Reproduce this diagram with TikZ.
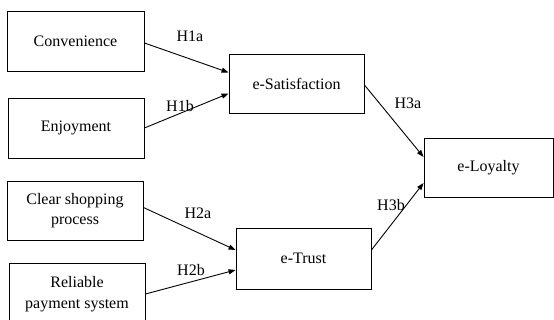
\documentclass[tikz,border=0pt]{standalone}
\usepackage{fontspec}
\setmainfont{Liberation Serif}
\usetikzlibrary{arrows.meta}
\begin{document}
\begin{tikzpicture}[x=1pt,y=-1pt,
  box/.style={draw, line width=0.9pt, inner sep=0pt, align=center, font=\fontsize{16}{20.5}\selectfont},
  conn/.style={-{Triangle[length=7pt,width=5pt]}, line width=0.9pt},
  lbl/.style={inner sep=0pt, font=\fontsize{16}{18}\selectfont}]
\useasboundingbox (0,0) rectangle (554,320);
\node[box, minimum width=137pt, minimum height=60pt] (conv) at (75.5,41) {Convenience};
\node[box, minimum width=136pt, minimum height=60pt] (enj) at (76,128) {Enjoyment};
\node[box, minimum width=135pt, minimum height=59pt] (esat) at (296.5,83.5) {e-Satisfaction};
\node[box, minimum width=136pt, minimum height=59pt] (clear) at (75,210.5) {Clear shopping\\process};
\node[box, minimum width=136pt, minimum height=62pt] (rel) at (77,294) {Reliable\\payment system};
\node[box, minimum width=135pt, minimum height=61pt] (etrust) at (303.5,258.5) {e-Trust};
\node[box, minimum width=129pt, minimum height=59pt] (eloy) at (488.5,167.5) {e-Loyalty};

\draw[conn] ([yshift=-2pt]conv.east) -- ([yshift=11pt]esat.west);
\draw[conn] (enj.east) -- ([yshift=-10pt]esat.west);
\draw[conn] ([yshift=3pt]clear.east) -- ([yshift=8.5pt]etrust.west);
\draw[conn] (rel.east) -- ([yshift=-11.5pt]etrust.west);
\draw[conn] ([yshift=-1.5pt]esat.east) -- ([yshift=10.5pt]eloy.west);
\draw[conn] ([yshift=8.5pt]etrust.east) -- ([yshift=-15.5pt]eloy.west);

\node[lbl] (h1a) at (190,36) {H1a};
\node[lbl] (h1b) at (180,106) {H1b};
\node[lbl] (h2a) at (198,213) {H2a};
\node[lbl] (h2b) at (191,270) {H2b};
\node[lbl] (h3a) at (408,103.5) {H3a};
\node[lbl] (h3b) at (391,205) {H3b};
\end{tikzpicture}
\end{document}
